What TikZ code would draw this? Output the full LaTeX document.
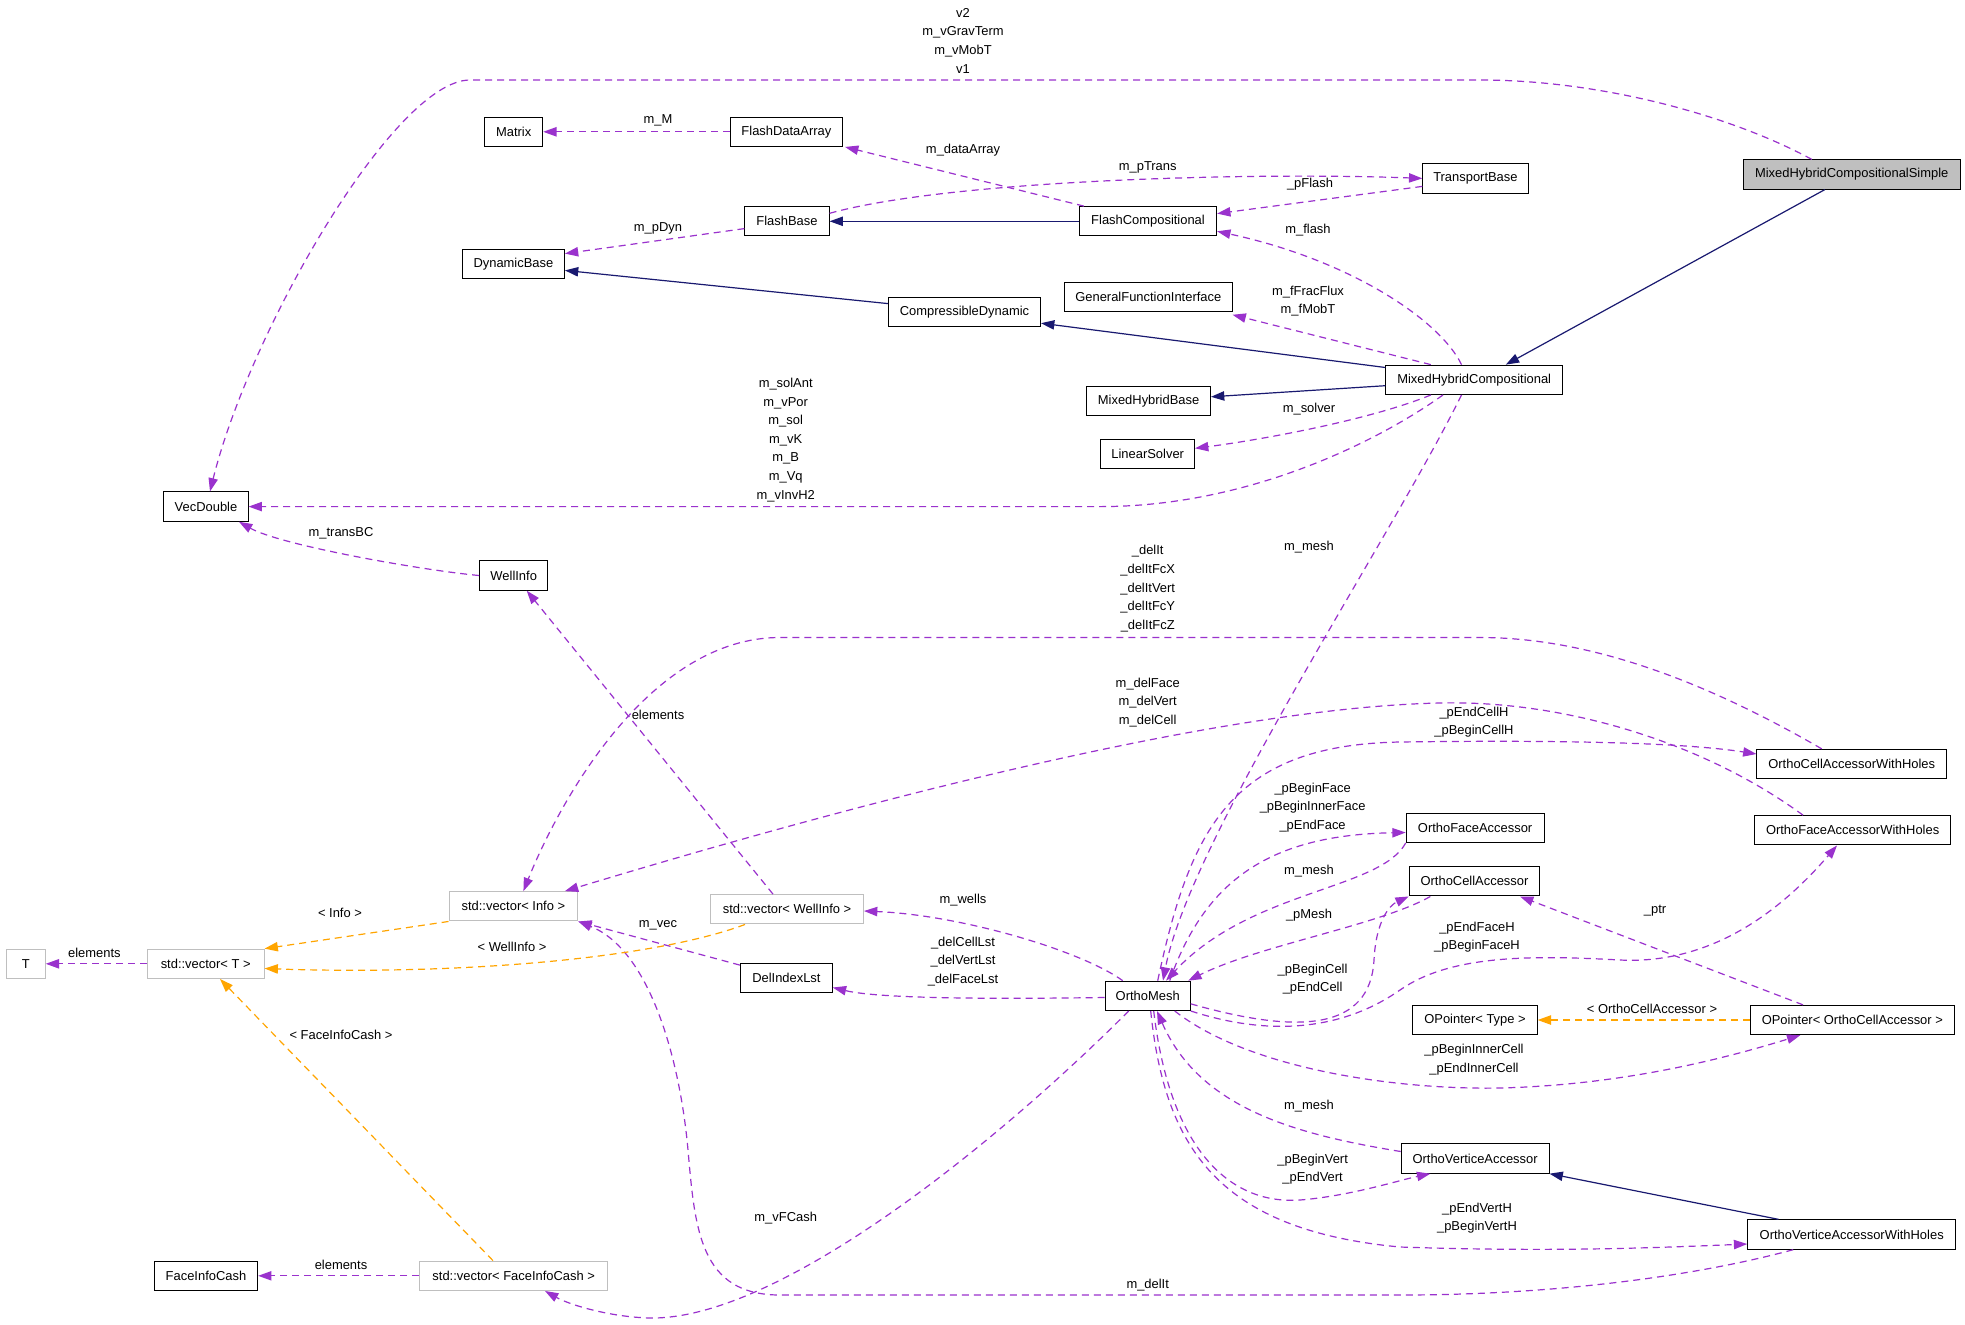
\documentclass[tikz,border=0pt]{standalone}
\usepackage{fontspec}
\setmainfont{Liberation Sans}
\usetikzlibrary{arrows.meta,calc}
\definecolor{purp}{HTML}{9A32CD}
\definecolor{navyc}{HTML}{191970}
\definecolor{orng}{HTML}{FFA500}
\definecolor{tgray}{HTML}{BFBFBF}
\newcommand{\lbf}{\fontsize{9.7pt}{13.95pt}\selectfont}
\tikzset{
  cls/.style={draw=black, line width=0.75pt, fill=white, font=\lbf, minimum height=22pt, inner xsep=6pt, inner ysep=0pt},
  tpl/.style={cls, draw=tgray},
  bw/.style={minimum width=#1*0.75pt},
  lbl/.style={font=\lbf, inner sep=0pt, align=center},
  tipA/.style={-{Triangle[length=10pt,width=7pt]}},
  mem/.style={draw=purp, line width=0.9pt, dash pattern=on 5.25pt off 3.75pt, tipA},
  inh/.style={draw=navyc, line width=0.9pt, tipA},
  tmpl/.style={draw=orng, line width=0.9pt, dash pattern=on 5.25pt off 3.75pt, tipA},
}
\begin{document}
\begin{tikzpicture}[x=0.75pt, y=-0.75pt]
\fill[white] (0,0) rectangle (1965,1324);
\useasboundingbox (0,0) rectangle (1965,1324);
% nodes
\node[cls, fill=tgray, bw=216.6] (mhcs) at (1851.7,174.5) {MixedHybridCompositionalSimple};
\node[cls, bw=105.2] (tb) at (1475.4,178.4) {TransportBase};
\node[cls, bw=137.2] (fc) at (1148,221.3) {FlashCompositional};
\node[cls, bw=112.3] (fda) at (786.4,131.8) {FlashDataArray};
\node[cls, bw=58] (mat) at (513.7,131.8) {Matrix};
\node[cls, bw=84.2] (fb) at (787,221.3) {FlashBase};
\node[cls, bw=102] (db) at (513.4,263.8) {DynamicBase};
\node[cls, bw=152] (cd) at (964.5,312) {CompressibleDynamic};
\node[cls, bw=167.4] (gfi) at (1148.3,297.1) {GeneralFunctionInterface};
\node[cls, bw=176.6] (mhc) at (1474.2,379.8) {MixedHybridCompositional};
\node[cls, bw=123.7] (mhb) at (1148.6,401.3) {MixedHybridBase};
\node[cls, bw=93.6] (ls) at (1147.7,454.3) {LinearSolver};
\node[cls, bw=84.2] (vd) at (206,506.6) {VecDouble};
\node[cls, bw=68.2] (wi) at (513.7,575.5) {WellInfo};
\node[tpl, bw=128.8] (vinfo) at (513.4,906.3) {std::vector< Info >};
\node[tpl, bw=153] (vwell) at (787,909.3) {std::vector< WellInfo >};
\node[tpl, bw=38.9] (tT) at (25.8,963.8) {T};
\node[tpl, bw=116.7] (vT) at (205.7,963.8) {std::vector< T >};
\node[cls, bw=91.8] (dil) at (786.4,977.8) {DelIndexLst};
\node[cls, bw=103.3] (fic) at (206,1275.8) {FaceInfoCash};
\node[tpl, bw=188.1] (vfic) at (513.7,1275.8) {std::vector< FaceInfoCash >};
\node[cls, bw=85] (om) at (1147.7,995.8) {OrthoMesh};
\node[cls, bw=189.5] (ocawh) at (1851.7,764) {OrthoCellAccessorWithHoles};
\node[cls, bw=137.8] (ofa) at (1475.1,827.8) {OrthoFaceAccessor};
\node[cls, bw=196.3] (ofawh) at (1852.6,830.3) {OrthoFaceAccessorWithHoles};
\node[cls, bw=130.5] (oca) at (1474.5,881.3) {OrthoCellAccessor};
\node[cls, bw=124.3] (opt) at (1475,1020) {OPointer< Type >};
\node[cls, bw=204.3] (opoca) at (1852.3,1020) {OPointer< OrthoCellAccessor >};
\node[cls, bw=147.8] (ova) at (1475.1,1158.5) {OrthoVerticeAccessor};
\node[cls, bw=208] (ovawh) at (1851.7,1234.5) {OrthoVerticeAccessorWithHoles};

% edges
\draw[mem] ($(mhcs.north)+(-40,0)$) .. controls (1730,115) and (1600,80) .. (1480,80) -- (470,80) .. controls (395,80) and (250,330) .. ($(vd.north)+(4,0)$);
\draw[mem] (fda.west) -- (mat.east);
\draw[mem] ($(fc.north west)+(5,0)$) -- ($(fda.south east)+(2,0)$);
\draw[mem] ($(fb.east)+(0,-8)$) .. controls (950,180) and (1250,172) .. (tb.west);
\draw[mem] ($(tb.west)+(0,8)$) -- ($(fc.east)+(0,-7.7)$);
\draw[inh] (fc.west) -- (fb.east);
\draw[mem] ($(fb.west)+(0,7.3)$) -- ($(db.east)+(0,-10.2)$);
\draw[inh] ($(cd.west)+(0,-8.4)$) -- ($(db.east)+(0,6.6)$);
\draw[inh] ($(mhc.west)+(0,-12.3)$) -- ($(cd.east)+(0,11.2)$);
\draw[inh] ($(mhcs.south)+(-27,0)$) -- ($(mhc.north)+(31.6,0)$);
\draw[mem] ($(mhc.north)+(-12.7,0)$) .. controls (1440,320) and (1350,260) .. ($(fc.east)+(0,10)$);
\draw[mem] ($(mhc.north)+(-43.4,0)$) -- ($(gfi.south east)+(0,2.5)$);
\draw[inh] ($(mhc.west)+(0,5.9)$) -- ($(mhb.east)+(0,-4.5)$);
\draw[mem] ($(mhc.south)+(-43.4,0)$) .. controls (1370,420) and (1260,440) .. ($(ls.east)+(0,-6)$);
\draw[mem] ($(mhc.south)+(-31.2,0)$) .. controls (1380,440) and (1250,506.6) .. (1100,506.6) -- (vd.east);
\draw[mem] ($(mhc.south)+(-12.7,0)$) .. controls (1390,540) and (1190,840) .. ($(om.north)+(15.3,0)$);
\draw[mem] (wi.west) .. controls (420,570) and (280,545) .. ($(vd.south)+(33,0)$);
\draw[mem] ($(vwell.north)+(-14,0)$) -- ($(wi.south)+(13,0)$);
\draw[mem] ($(ocawh.north)+(-30,0)$) .. controls (1720,690) and (1600,637.5) .. (1480,637.5) -- (780,637.5) .. controls (650,637.5) and (560,800) .. ($(vinfo.north)+(10,0)$);
\draw[mem] ($(ofawh.north)+(-49.6,0)$) .. controls (1700,740) and (1560,700) .. (1440,703) .. controls (1200,708) and (800,820) .. ($(vinfo.north east)+(-13.4,0)$);
\draw[mem] ($(om.north)+(10,0)$) .. controls (1190,830) and (1230,745) .. (1400,742) .. controls (1550,740) and (1680,742) .. ($(ocawh.west)+(0,-10)$);
\draw[mem] ($(om.north)+(22,0)$) .. controls (1205,880) and (1270,835) .. ($(ofa.west)+(0,4.7)$);
\draw[mem] (ofa.south west) .. controls (1380,890) and (1250,890) .. ($(om.north)+(18.3,0)$);
\draw[mem] ($(oca.south west)+(21.6,0)$) .. controls (1380,925) and (1260,945) .. ($(om.north east)+(-2.5,0)$);
\draw[mem] ($(om.east)+(0,8)$) .. controls (1300,1035) and (1370,1030) .. (1374,960) .. controls (1376,920) and (1390,905) .. (oca.south west);
\draw[mem] ($(om.south east)+(0,0)$) .. controls (1280,1040) and (1350,1025) .. (1400,990) .. controls (1450,955) and (1530,955) .. (1620,960) .. controls (1720,965) and (1790,900) .. ($(ofawh.south)+(-15.6,0)$);
\draw[mem] ($(opoca.north)+(-49.3,0)$) -- ($(oca.south)+(45.5,0)$);
\draw[tmpl] (opoca.west) -- (opt.east);
\draw[mem] ($(om.south)+(27,0)$) .. controls (1250,1070) and (1400,1090) .. (1500,1088) .. controls (1620,1085) and (1720,1060) .. ($(opoca.south)+(-52,0)$);
\draw[mem] ($(ova.west)+(0,-7)$) .. controls (1300,1135) and (1200,1110) .. ($(om.south)+(9.3,0)$);
\draw[mem] ($(om.south)+(6,0)$) .. controls (1170,1150) and (1230,1205) .. (1300,1200) .. controls (1350,1196) and (1400,1180) .. ($(ova.south west)+(29.6,0)$);
\draw[inh] ($(ovawh.north)+(-73.2,0)$) -- (ova.south east);
\draw[mem] ($(om.south)+(3,0)$) .. controls (1165,1150) and (1220,1230) .. (1400,1247) .. controls (1550,1252) and (1650,1248) .. ($(ovawh.west)+(0,9.5)$);
\draw[mem] ($(ovawh.south west)+(46,0)$) .. controls (1700,1275) and (1560,1295) .. (1400,1295) -- (780,1295) .. controls (700,1295) and (695,1230) .. (688,1150) .. controls (680,1060) and (650,950) .. (vinfo.south east);
\draw[mem] ($(dil.north west)+(0,2.5)$) -- (vinfo.south east);
\draw[mem] ($(om.west)+(0,1.7)$) .. controls (1000,999) and (880,999) .. ($(dil.east)+(0,9.7)$);
\draw[mem] ($(om.north west)+(18,0)$) .. controls (1080,950) and (960,915) .. ($(vwell.east)+(0,1.7)$);
\draw[mem] ($(om.south west)+(24,0)$) .. controls (1000,1140) and (780,1320) .. (650,1318) .. controls (610,1317) and (570,1305) .. ($(vfic.south)+(31.3,0)$);
\draw[tmpl] (vinfo.south west) -- (vT.north east);
\draw[tmpl] ($(vwell.south)+(-42,0)$) .. controls (650,960) and (450,975) .. ($(vT.east)+(0,4.7)$);
\draw[mem] (vT.west) -- (tT.east);
\draw[tmpl] ($(vfic.north)+(-20.7,0)$) -- ($(vT.south)+(14.3,0)$);
\draw[mem] (vfic.west) -- (fic.east);

% labels
\node[lbl] (l1) at (963,40.75) {v2\\m\_vGravTerm\\m\_vMobT\\v1};
\node[lbl] (l2) at (658,120.7) {m\_M};
\node[lbl] (l3) at (963,150) {m\_dataArray};
\node[lbl] (l4) at (1147.7,167) {m\_pTrans};
\node[lbl] (l5) at (1310,184.5) {\_pFlash};
\node[lbl] (l6) at (658,228) {m\_pDyn};
\node[lbl] (l7) at (1308,230.4) {m\_flash};
\node[lbl] (l8) at (1308,301) {m\_fFracFlux\\m\_fMobT};
\node[lbl] (l9) at (1309,409) {m\_solver};
\node[lbl] (l10) at (785.7,439.9) {m\_solAnt\\m\_vPor\\m\_sol\\m\_vK\\m\_B\\m\_Vq\\m\_vInvH2};
\node[lbl] (l11) at (1309,547.5) {m\_mesh};
\node[lbl] (l12) at (341,533) {m\_transBC};
\node[lbl] (l13) at (1147.7,588.75) {\_delIt\\\_delItFcX\\\_delItVert\\\_delItFcY\\\_delItFcZ};
\node[lbl] (l14) at (1147.7,702.3) {m\_delFace\\m\_delVert\\m\_delCell};
\node[lbl] (l15) at (658,715) {elements};
\node[lbl] (l16) at (1474,722) {\_pEndCellH\\\_pBeginCellH};
\node[lbl] (l17) at (1312.6,807.5) {\_pBeginFace\\\_pBeginInnerFace\\\_pEndFace};
\node[lbl] (l18) at (1309,871.5) {m\_mesh};
\node[lbl] (l19) at (1309,915) {\_pMesh};
\node[lbl] (l20) at (1655,911) {\_ptr};
\node[lbl] (l21) at (1477,937) {\_pEndFaceH\\\_pBeginFaceH};
\node[lbl] (l22) at (1312.6,979.2) {\_pBeginCell\\\_pEndCell};
\node[lbl] (l23) at (1652,1008.5) {< OrthoCellAccessor >};
\node[lbl] (l24) at (1474,1059.8) {\_pBeginInnerCell\\\_pEndInnerCell};
\node[lbl] (l25) at (1309,1106.5) {m\_mesh};
\node[lbl] (l26) at (1312.6,1169.2) {\_pBeginVert\\\_pEndVert};
\node[lbl] (l27) at (1477,1218) {\_pEndVertH\\\_pBeginVertH};
\node[lbl] (l28) at (1147.7,1285) {m\_delIt};
\node[lbl] (l29) at (963,900) {m\_wells};
\node[lbl] (l30) at (963,961.2) {\_delCellLst\\\_delVertLst\\\_delFaceLst};
\node[lbl] (l31) at (658,925) {m\_vec};
\node[lbl] (l32) at (340,912.5) {< Info >};
\node[lbl] (l33) at (512,946.5) {< WellInfo >};
\node[lbl] (l34) at (94.4,952.5) {elements};
\node[lbl] (l35) at (341,1035) {< FaceInfoCash >};
\node[lbl] (l36) at (341,1265) {elements};
\node[lbl] (l37) at (785.7,1218.5) {m\_vFCash};
\end{tikzpicture}
\end{document}
